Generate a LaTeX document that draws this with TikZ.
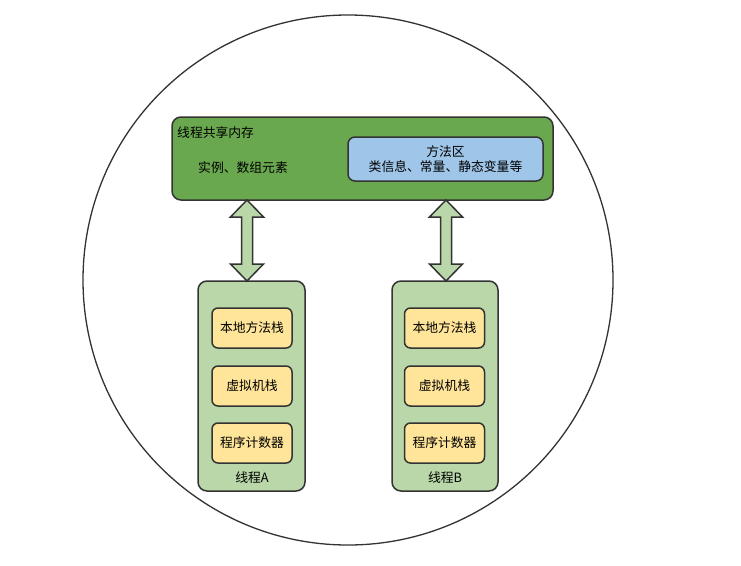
\documentclass[tikz,border=0pt]{standalone}
\usepackage{fontspec}
\setmainfont{Noto Sans CJK SC}
\usetikzlibrary{calc}
\definecolor{darkgreen}{RGB}{106,168,79}
\definecolor{lightgreen}{RGB}{185,215,168}
\definecolor{lightblue}{RGB}{159,197,232}
\definecolor{lightyellow}{RGB}{255,229,153}
\definecolor{edge}{RGB}{51,51,51}
\tikzset{
  box/.style={draw=edge, line width=1.5pt, rounded corners=#1},
  box/.default=8pt,
  lbl/.style={font=\fontsize{12.8}{15}\selectfont, text=black, inner sep=0pt},
  stackbox/.style={box=6pt, fill=lightyellow, minimum width=80pt, minimum height=40pt, font=\fontsize{12.8}{15}\selectfont, inner sep=0pt},
  threadbox/.style={box=9pt, fill=lightgreen},
  dblarrow/.style={draw=edge, line width=1.5pt, fill=lightgreen, line join=miter},
}
\newcommand{\mydblarrow}[2]{%
  \draw[dblarrow] (#1) -- ([xshift=16.5pt,yshift=-17pt]#1) -- ([xshift=5.5pt,yshift=-17pt]#1)
    -- ([xshift=5.5pt,yshift=17pt]#2) -- ([xshift=16.5pt,yshift=17pt]#2) -- (#2)
    -- ([xshift=-16.5pt,yshift=17pt]#2) -- ([xshift=-5.5pt,yshift=17pt]#2)
    -- ([xshift=-5.5pt,yshift=-17pt]#1) -- ([xshift=-16.5pt,yshift=-17pt]#1) -- cycle;}
\begin{document}
\begin{tikzpicture}[x=1pt,y=-1pt]
\useasboundingbox (0,0) rectangle (741,565);
% outer circle
\node[draw=edge, line width=1.3pt, circle, minimum size=530pt, inner sep=0pt] (outer) at (348,280) {};
% shared memory
\node[box=9pt, fill=darkgreen, minimum width=381pt, minimum height=83pt, inner sep=0pt] (shared) at (362.5,158.5) {};
\node[lbl, anchor=west] (sharedtitle) at (177,133) {线程共享内存};
\node[lbl] (heap) at (243,168) {实例、数组元素};
\node[box=7pt, fill=lightblue, minimum width=195pt, minimum height=44pt, inner sep=0pt] (method) at (445.5,159) {};
\node[lbl] (methodtitle) at (445.5,152) {方法区};
\node[lbl] (methodtext) at (445.5,167) {类信息、常量、静态变量等};
% thread A
\node[threadbox, minimum width=107pt, minimum height=210pt, inner sep=0pt] (threadA) at (251.5,386) {};
\node[stackbox] (nativeA) at (252,328) {本地方法栈};
\node[stackbox] (vmA) at (252,386) {虚拟机栈};
\node[stackbox] (pcA) at (252,443) {程序计数器};
\node[lbl] (labelA) at (252,478) {线程A};
% thread B
\node[threadbox, minimum width=106pt, minimum height=210pt, inner sep=0pt] (threadB) at (445,386) {};
\node[stackbox] (nativeB) at (444.5,328) {本地方法栈};
\node[stackbox] (vmB) at (444.5,386) {虚拟机栈};
\node[stackbox] (pcB) at (444.5,443) {程序计数器};
\node[lbl] (labelB) at (445,478) {线程B};
% arrows
\coordinate (aAtop) at (247,200);
\coordinate (aAbot) at (247,281);
\coordinate (aBtop) at (446,200);
\coordinate (aBbot) at (446,281);
\mydblarrow{aAtop}{aAbot}
\mydblarrow{aBtop}{aBbot}
\end{tikzpicture}
\end{document}
